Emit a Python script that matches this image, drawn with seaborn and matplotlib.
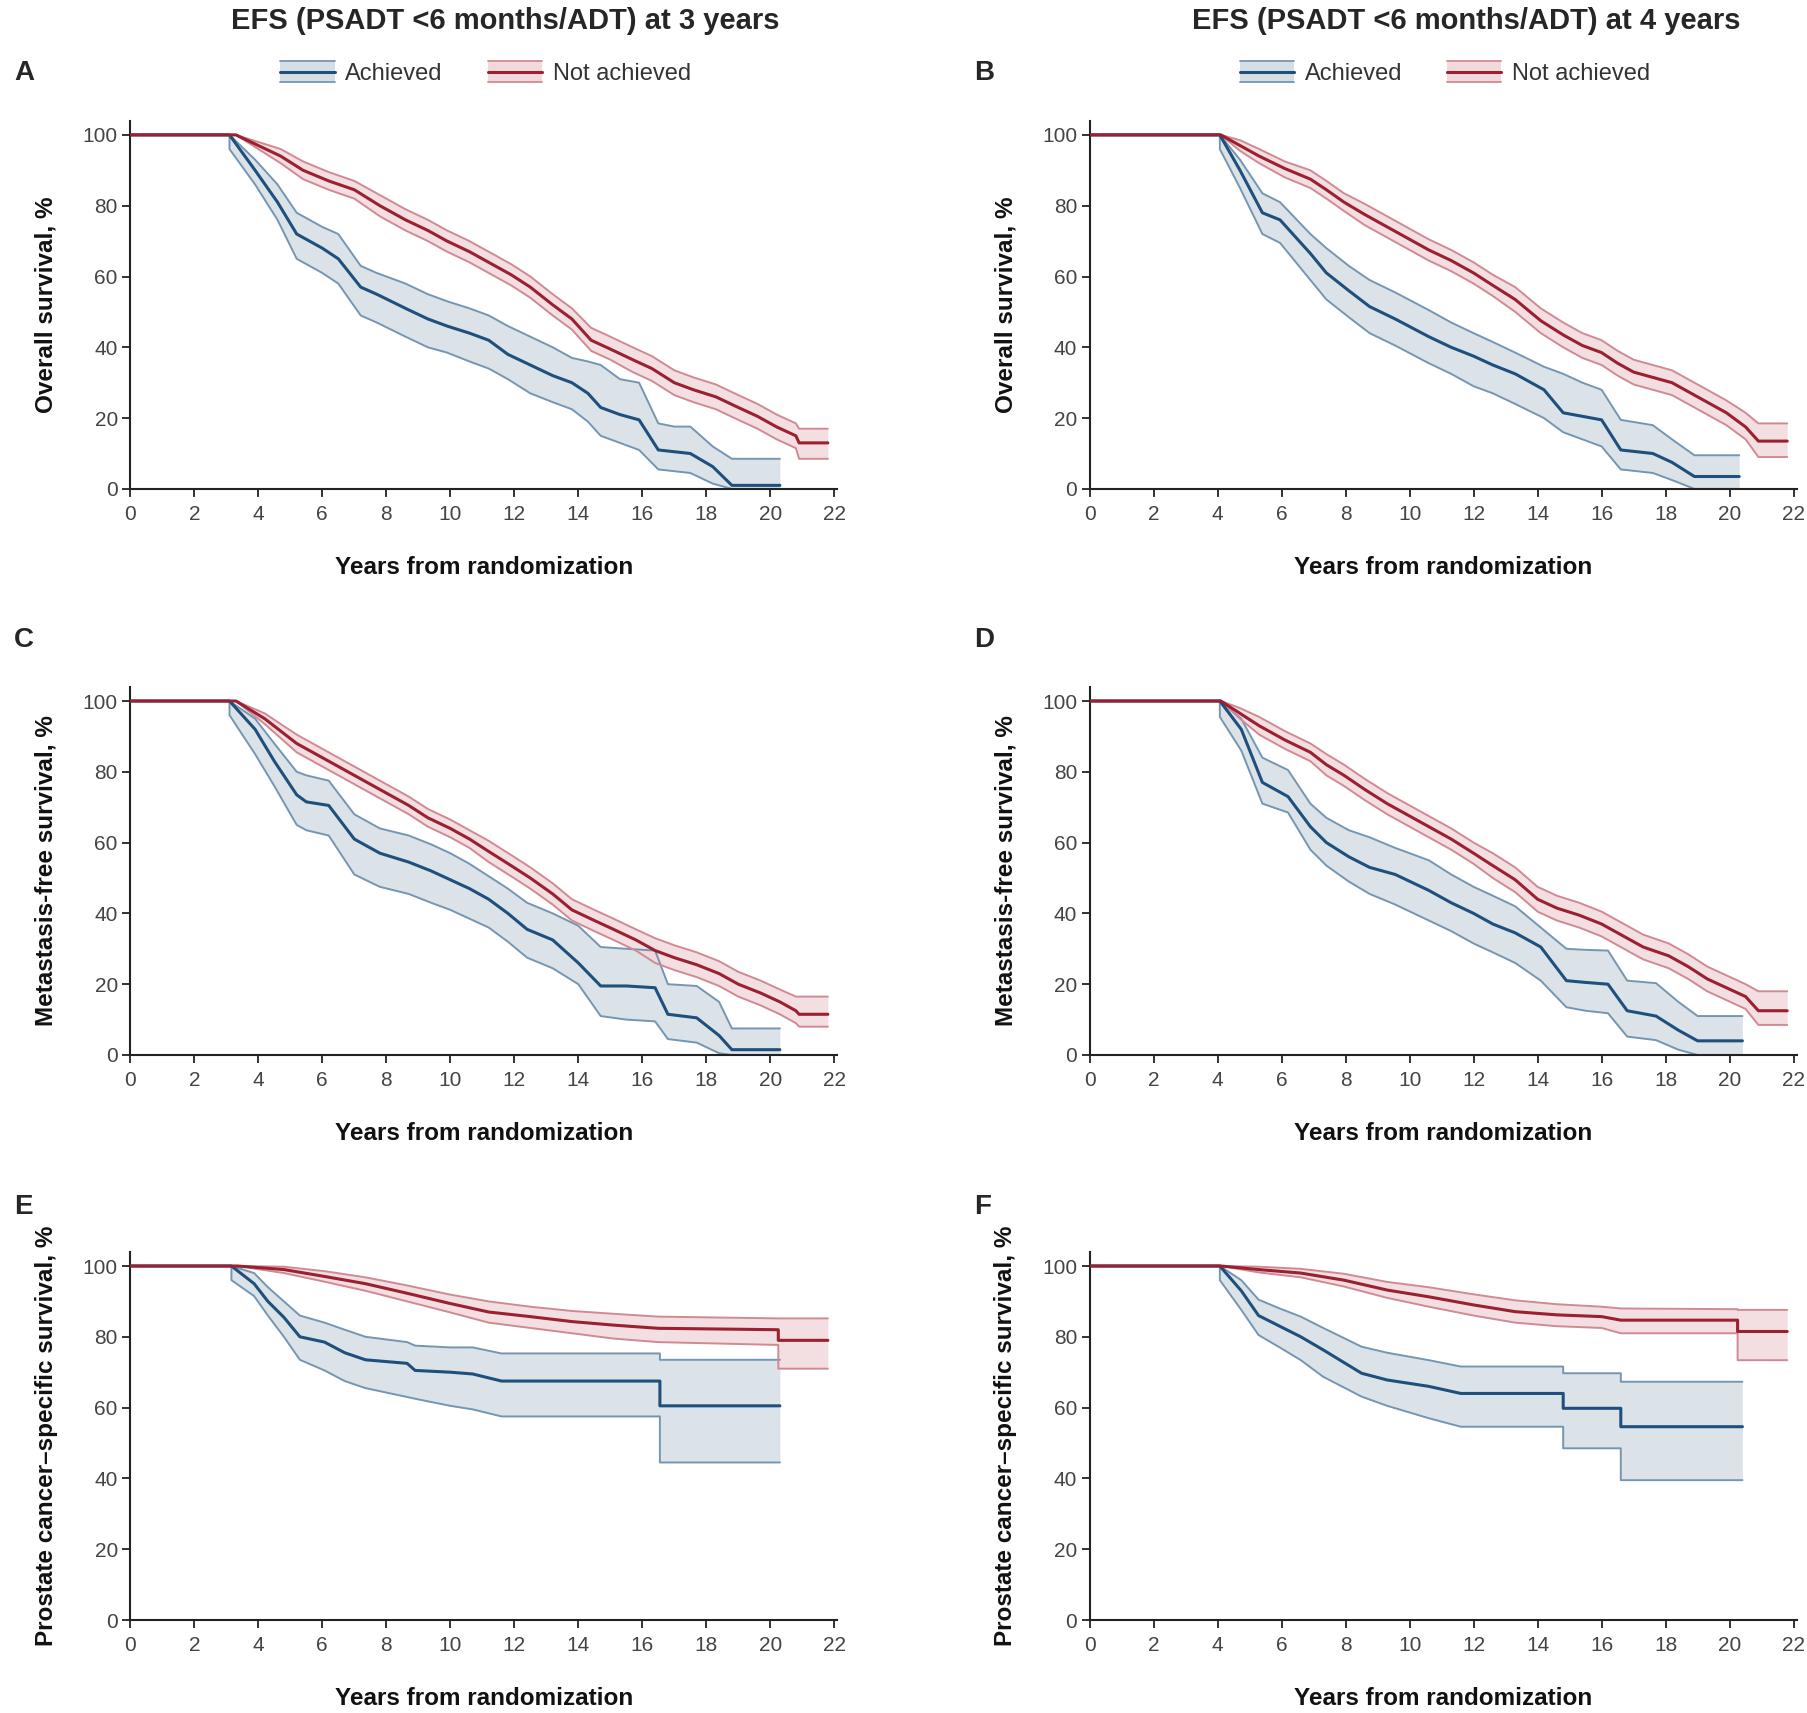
import matplotlib
matplotlib.use("Agg")
import matplotlib.pyplot as plt
import seaborn as sns
from matplotlib.legend_handler import HandlerBase
from matplotlib.patches import Rectangle
from matplotlib.lines import Line2D

sns.set_theme(style="ticks")
plt.rcParams['font.family'] = ['Liberation Sans', 'DejaVu Sans']

# ---- data (years, survival %) ----
# A: overall survival, EFS at 3 years
os3_ach_t = [0, 3.1, 3.1, 3.9, 4.6, 5.2, 6.0, 6.5, 7.2, 7.7, 8.6, 9.3, 9.9, 10.6, 11.2, 11.8, 12.5, 13.2, 13.8, 14.3, 14.7, 15.3, 15.9, 16.5, 17.0, 17.5, 18.2, 18.8, 20.3]
os3_ach = [100, 100, 100, 90, 81, 72, 68, 65, 57, 55, 51, 48, 46, 44, 42, 38, 35, 32, 30, 27, 23, 21, 19.5, 11, 10.5, 10, 6.3, 1, 1]
os3_ach_hi = [100, 100, 100, 93, 86, 78, 74, 72, 63, 61, 58, 55, 53, 51, 49, 46, 43, 40, 37, 36, 35, 31, 30, 18.5, 17.6, 17.6, 12, 8.5, 8.5]
os3_ach_lo = [100, 100, 96, 86, 76, 65, 61, 58, 49, 47, 43, 40, 38.5, 36, 34, 31, 27, 24.5, 22.5, 19, 15, 13, 11, 5.5, 5, 4.5, 1.5, 0, 0]
os3_not_t = [0, 3.3, 4.0, 4.7, 5.4, 6.2, 7.0, 7.8, 8.6, 9.3, 9.9, 10.6, 11.2, 11.9, 12.5, 13.2, 13.8, 14.4, 15.0, 15.7, 16.3, 17.0, 17.6, 18.3, 19.0, 19.6, 20.2, 20.8, 20.9, 21.8]
os3_not = [100, 100, 97, 94, 90, 87, 84.5, 80, 76, 73, 70, 67, 64, 60.5, 57, 52, 48, 42, 39.5, 36.5, 34, 30, 28, 26, 23, 20.5, 17.5, 15, 13, 13]
os3_not_hi = [100, 100, 98, 96, 92.5, 89.5, 87, 83, 79, 76, 73, 70, 67, 63.5, 60, 55, 51, 45.5, 43, 40, 37.5, 33.5, 31.5, 29.5, 26.5, 24, 21, 18.5, 17, 17]
os3_not_lo = [100, 100, 96, 92, 87.5, 84.5, 82, 77, 73, 70, 67, 64, 61, 57.5, 54, 49, 45, 39, 36.5, 33, 30.5, 26.5, 24.5, 22.5, 19.5, 17, 14, 11.5, 8.5, 8.5]

# B: overall survival, EFS at 4 years
os4_ach_t = [0, 4.07, 4.07, 4.7, 5.4, 5.95, 6.9, 7.4, 8.1, 8.75, 9.55, 10.6, 11.3, 12.0, 12.6, 13.3, 14.2, 14.8, 15.4, 16.0, 16.6, 17.6, 18.2, 18.9, 20.3]
os4_ach = [100, 100, 100, 90, 78, 76, 66.5, 61, 56, 51.5, 48, 43, 40, 37.5, 35, 32.5, 28, 21.5, 20.5, 19.5, 11, 10, 7.5, 3.5, 3.5]
os4_ach_hi = [100, 100, 100, 93, 83.5, 81, 72, 68, 63, 59, 55.5, 50.5, 47, 44, 41.5, 38.5, 34.5, 32.5, 30, 28, 19.5, 18, 14, 9.5, 9.5]
os4_ach_lo = [100, 100, 96, 85, 72, 69.5, 59, 53.5, 48.5, 44, 40.5, 35.5, 32.5, 29, 27, 24, 20, 16, 14, 12, 5.5, 4.5, 2.5, 0, 0]
os4_not_t = [0, 4.1, 4.7, 5.3, 6.1, 6.9, 7.4, 7.95, 8.6, 9.3, 9.9, 10.6, 11.3, 12.0, 12.6, 13.3, 14.1, 14.8, 15.4, 16.0, 16.5, 17.0, 17.6, 18.2, 18.8, 19.3, 19.9, 20.5, 20.9, 21.8]
os4_not = [100, 100, 97, 94, 90.5, 87.5, 84.5, 81, 77.5, 74, 71, 67.5, 64.5, 61, 57.5, 53.5, 47.5, 43.5, 40.5, 38.5, 35.5, 33, 31.5, 30, 27, 24.5, 21.5, 17.5, 13.5, 13.5]
os4_not_hi = [100, 100, 98.5, 96, 92.5, 90, 87, 83.5, 80.5, 77, 74, 70.5, 67.5, 64, 60.5, 57, 51, 47, 44, 42, 39, 36.5, 35, 33.5, 30.5, 28, 25, 21.5, 18.5, 18.5]
os4_not_lo = [100, 100, 95.5, 92, 88, 85, 82, 78.5, 74.5, 71, 68, 64.5, 61.5, 58, 54.5, 50, 44, 40, 37, 35, 32, 29.5, 28, 26.5, 23.5, 21, 18, 14, 9, 9]

# C: metastasis-free survival, EFS at 3 years
mfs3_ach_t = [0, 3.1, 3.1, 3.9, 4.5, 5.2, 5.5, 6.2, 7.0, 7.8, 8.7, 9.4, 10.0, 10.6, 11.2, 11.8, 12.4, 13.2, 14.0, 14.7, 15.5, 16.4, 16.8, 17.7, 18.4, 18.8, 20.3]
mfs3_ach = [100, 100, 100, 92, 83, 73.5, 71.5, 70.5, 61, 57, 54.5, 52, 49.5, 47, 44, 40, 35.5, 32.5, 26, 19.5, 19.5, 19, 11.5, 10.5, 5.5, 1.5, 1.5]
mfs3_ach_hi = [100, 100, 100, 95, 88, 80, 79, 77.5, 68, 64, 62, 59.5, 57, 54, 50.5, 47, 43, 40, 36.5, 30.5, 30, 29.5, 20, 19.5, 15, 7.5, 7.5]
mfs3_ach_lo = [100, 100, 96, 85, 76, 65, 63.5, 62, 51, 47.5, 45.5, 43, 41, 38.5, 36, 32, 27.5, 24.5, 20, 11, 10, 9.5, 4.5, 3.5, 0.5, 0, 0]
mfs3_not_t = [0, 3.3, 4.2, 5.2, 6.0, 6.7, 7.4, 8.0, 8.7, 9.3, 10.0, 10.6, 11.2, 11.9, 12.5, 13.2, 13.8, 14.5, 15.1, 15.8, 16.4, 17.0, 17.7, 18.4, 19.0, 19.7, 20.3, 20.8, 20.9, 21.8]
mfs3_not = [100, 100, 95, 88, 84, 80.5, 77, 74, 70.5, 67, 64, 61, 57.5, 53.5, 50, 45.5, 41, 38, 35.5, 32.5, 29.5, 27.5, 25.5, 23, 20, 17.5, 15, 12.5, 11.5, 11.5]
mfs3_not_hi = [100, 100, 96.5, 90.5, 86.5, 83, 79.5, 76.5, 73, 69.5, 66.5, 63.5, 60.5, 56.5, 53, 48.5, 44, 41, 38.5, 35.5, 33, 31, 29, 26.5, 23.5, 21, 18.5, 16.5, 16.5, 16.5]
mfs3_not_lo = [100, 100, 93.5, 85.5, 81.5, 78, 74.5, 71.5, 68, 64.5, 61.5, 58.5, 54.5, 50.5, 47, 42.5, 38, 35, 32.5, 29.5, 26, 24, 22, 19.5, 16.5, 14, 11.5, 9, 8, 8]

# D: metastasis-free survival, EFS at 4 years
mfs4_ach_t = [0, 4.07, 4.07, 4.74, 5.4, 6.2, 6.9, 7.4, 8.1, 8.75, 9.55, 10.6, 11.3, 12.0, 12.6, 13.3, 14.1, 14.9, 15.5, 16.2, 16.8, 17.7, 18.4, 19.0, 20.4]
mfs4_ach = [100, 100, 100, 92, 77, 73, 64.5, 60, 56, 53, 51, 46.5, 43, 40, 37, 34.5, 30.5, 21, 20.5, 20, 12.5, 11, 7, 4, 4]
mfs4_ach_hi = [100, 100, 100, 95, 84, 80.5, 71, 67, 63.5, 61.5, 58.5, 55, 51, 47.5, 45, 42, 36, 30, 29.7, 29.5, 21, 20.3, 15, 11, 11]
mfs4_ach_lo = [100, 100, 95.5, 86, 71, 68.5, 58, 53.5, 49, 45.5, 42.5, 38, 35, 31.5, 29, 26, 21, 13.5, 12.5, 11.8, 5.2, 4.2, 1.5, 0, 0]
mfs4_not_t = [0, 4.1, 4.7, 5.3, 6.1, 6.9, 7.4, 7.95, 8.6, 9.3, 9.9, 10.6, 11.3, 12.0, 12.6, 13.3, 14.0, 14.6, 15.3, 16.0, 16.6, 17.3, 18.1, 18.7, 19.3, 19.9, 20.5, 20.9, 21.8]
mfs4_not = [100, 100, 96.5, 93, 89, 85.5, 82, 79, 75, 71, 68, 64.5, 61, 57, 53.5, 49.5, 44, 41.5, 39.5, 37, 34, 30.5, 28, 25, 21.5, 19, 16.5, 12.5, 12.5]
mfs4_not_hi = [100, 100, 98, 95.5, 91.5, 88, 85, 82, 78, 74, 71, 67.5, 64, 60, 57, 53, 47.5, 45, 43, 40.5, 37.5, 34, 31.5, 28.5, 25, 22.5, 20, 18, 18]
mfs4_not_lo = [100, 100, 95, 90.5, 86.5, 83, 79, 76, 72, 68, 65, 61.5, 58, 54, 50, 46, 40.5, 38, 36, 33.5, 30.5, 27, 24.5, 21.5, 18, 15.5, 13, 8.5, 8.5]

# E: prostate cancer-specific survival, EFS at 3 years
pcss3_ach_t = [0, 3.16, 3.16, 3.87, 4.3, 4.8, 5.3, 6.07, 6.7, 7.35, 8.65, 8.9, 10.0, 10.7, 11.6, 16.55, 16.55, 20.3]
pcss3_ach = [100, 100, 100, 95, 90, 85.5, 80, 78.5, 75.5, 73.5, 72.5, 70.5, 70, 69.5, 67.5, 67.5, 60.5, 60.5]
pcss3_ach_hi = [100, 100, 100, 98, 94, 90, 86, 84, 82, 80, 78.5, 77.5, 77, 77, 75.3, 75.3, 73.5, 73.5]
pcss3_ach_lo = [100, 100, 96, 91.5, 86, 80, 73.5, 70.5, 67.5, 65.5, 63, 62.5, 60.5, 59.5, 57.5, 57.5, 44.5, 44.5]
pcss3_not_t = [0, 3.35, 4.8, 6.1, 7.35, 8.65, 9.95, 11.2, 12.5, 13.8, 15.1, 16.5, 20.25, 20.25, 21.8]
pcss3_not = [100, 100, 99, 97, 95, 92.3, 89.5, 87, 85.7, 84.3, 83.3, 82.4, 82, 79, 79]
pcss3_not_hi = [100, 100, 99.8, 98.5, 96.8, 94.5, 92, 90, 88.5, 87.3, 86.5, 85.7, 85.2, 85.2, 85.2]
pcss3_not_lo = [100, 100, 98, 95.5, 93, 90, 87, 84, 82.5, 81, 79.5, 78.5, 77.7, 71, 71]

# F: prostate cancer-specific survival, EFS at 4 years
pcss4_ach_t = [0, 4.07, 4.07, 4.74, 5.28, 5.94, 6.6, 7.3, 8.5, 9.3, 10.6, 11.6, 14.8, 14.8, 16.6, 16.6, 20.4]
pcss4_ach = [100, 100, 100, 93, 86, 83, 80, 76.3, 69.7, 67.8, 66, 64, 64, 59.8, 59.8, 54.6, 54.6]
pcss4_ach_hi = [100, 100, 100, 96, 90.5, 88, 85.7, 82.5, 77.2, 75.5, 73.4, 71.6, 71.6, 69.7, 69.7, 67.3, 67.3]
pcss4_ach_lo = [100, 100, 96, 87.6, 80.5, 77, 73.4, 68.7, 63.1, 60.5, 57, 54.6, 54.6, 48.5, 48.5, 39.5, 39.5]
pcss4_not_t = [0, 4.1, 5.28, 6.6, 7.95, 9.3, 10.6, 12.0, 13.3, 14.6, 16.0, 16.6, 20.25, 20.25, 21.8]
pcss4_not = [100, 100, 99, 98, 96, 93.2, 91.3, 89, 87.1, 86.2, 85.7, 84.7, 84.7, 81.5, 81.5]
pcss4_not_hi = [100, 100, 99.8, 99.2, 97.8, 95.5, 94, 92, 90.3, 89.2, 88.5, 88, 87.8, 87.6, 87.6]
pcss4_not_lo = [100, 100, 98.2, 96.8, 94.2, 91, 88.5, 86, 84, 83, 82.5, 81, 81, 73.4, 73.4]

col_titles = ["EFS (PSADT <6 months/ADT) at 3 years", "EFS (PSADT <6 months/ADT) at 4 years"]
row_ylabels = ["Overall survival, %", "Metastasis-free survival, %", "Prostate cancer\u2013specific survival, %"]
panel_letters = ["A", "B", "C", "D", "E", "F"]
group_labels = ["Achieved", "Not achieved"]
x_ticks = list(range(0, 23, 2))
y_ticks = list(range(0, 101, 20))

# colours: (fill, band edge, main line)
blue = ("#d5dee5", "#7496b3", "#1f4f7d")
red = ("#f2d9dc", "#d08a93", "#9b2030")

panels = [
    ((os3_ach_t, os3_ach, os3_ach_lo, os3_ach_hi), (os3_not_t, os3_not, os3_not_lo, os3_not_hi)),
    ((os4_ach_t, os4_ach, os4_ach_lo, os4_ach_hi), (os4_not_t, os4_not, os4_not_lo, os4_not_hi)),
    ((mfs3_ach_t, mfs3_ach, mfs3_ach_lo, mfs3_ach_hi), (mfs3_not_t, mfs3_not, mfs3_not_lo, mfs3_not_hi)),
    ((mfs4_ach_t, mfs4_ach, mfs4_ach_lo, mfs4_ach_hi), (mfs4_not_t, mfs4_not, mfs4_not_lo, mfs4_not_hi)),
    ((pcss3_ach_t, pcss3_ach, pcss3_ach_lo, pcss3_ach_hi), (pcss3_not_t, pcss3_not, pcss3_not_lo, pcss3_not_hi)),
    ((pcss4_ach_t, pcss4_ach, pcss4_ach_lo, pcss4_ach_hi), (pcss4_not_t, pcss4_not, pcss4_not_lo, pcss4_not_hi)),
]


class BandKey:
    def __init__(self, colors):
        self.colors = colors


class BandHandler(HandlerBase):
    # legend key: shaded band with edge lines and the estimate line in the middle
    def create_artists(self, legend, orig_handle, xdescent, ydescent, width, height, fontsize, trans):
        fill, edge, main = orig_handle.colors
        x0, y0 = -xdescent, -ydescent
        rect = Rectangle((x0, y0), width, height, facecolor=fill, edgecolor="none", transform=trans)
        top = Line2D([x0, x0 + width], [y0 + height] * 2, color=edge, lw=1.3, transform=trans)
        bot = Line2D([x0, x0 + width], [y0] * 2, color=edge, lw=1.3, transform=trans)
        mid = Line2D([x0, x0 + width], [y0 + height / 2] * 2, color=main, lw=2.2, transform=trans)
        return [rect, top, bot, mid]


fig = plt.figure(figsize=(18.08, 17.13), dpi=100)

W, H = 1808.0, 1713.0
lefts = [130.3, 1089.6]
bottoms = [488.9, 1055.0, 1620.0]
ax_w = 32.0 * 22.1
ax_h = 3.54 * 104

for i, (ach, notach) in enumerate(panels):
    r, c = divmod(i, 2)
    ax = fig.add_axes([lefts[c] / W, 1 - bottoms[r] / H, ax_w / W, ax_h / H])

    for curve, (fill, edge, main) in [(ach, blue), (notach, red)]:
        t, est, lo, hi = curve
        ax.fill_between(t, lo, hi, color=fill, lw=0, alpha=0.85, zorder=1)
    for curve, (fill, edge, main) in [(ach, blue), (notach, red)]:
        t, est, lo, hi = curve
        sns.lineplot(x=t, y=lo, ax=ax, color=edge, lw=1.4, estimator=None, sort=False, zorder=2)
        sns.lineplot(x=t, y=hi, ax=ax, color=edge, lw=1.4, estimator=None, sort=False, zorder=2)
        sns.lineplot(x=t, y=est, ax=ax, color=main, lw=2.2, estimator=None, sort=False, zorder=3)

    ax.set_xlim(0, 22.1)
    ax.set_ylim(0, 104)
    ax.set_xticks(x_ticks)
    ax.set_yticks(y_ticks)
    sns.despine(ax=ax)
    for s in ["left", "bottom"]:
        ax.spines[s].set_linewidth(1.5)
        ax.spines[s].set_color("#222222")
    ax.tick_params(axis="both", direction="out", length=6, width=1.3, color="#222222",
                   labelsize=15, labelcolor="#444444")
    ax.tick_params(axis="x", pad=5.5)
    ax.tick_params(axis="y", pad=3)

    ax.set_xlabel("Years from randomization", fontsize=17.5, fontweight="bold", color="#111111")
    ax.xaxis.set_label_coords(0.5, -0.182)
    ax.set_ylabel(row_ylabels[r], fontsize=17.5, fontweight="bold", color="#111111")
    ax.yaxis.set_label_coords(-0.1024, 0.5)

    fig.text((14 if c == 0 else 974) / W, 1 - [73, 640, 1207][r] / H, panel_letters[i],
             fontsize=20, fontweight="bold", ha="left", va="center")

    if r == 0:
        fig.text([505, 1466][c] / W, 1 - 21 / H, col_titles[c], fontsize=21,
                 fontweight="bold", ha="center", va="center")
        ax.legend(handles=[BandKey(blue), BandKey(red)], labels=group_labels,
                  handler_map={BandKey: BandHandler()},
                  loc="center", bbox_to_anchor=([485.5, 1445][c] / W, 1 - 73 / H),
                  bbox_transform=fig.transFigure, ncol=2, frameon=False,
                  fontsize=17, handlelength=2.3, handleheight=0.95,
                  handletextpad=0.45, columnspacing=1.9, labelcolor="#333333")

fig.savefig("out.png", dpi=100)
